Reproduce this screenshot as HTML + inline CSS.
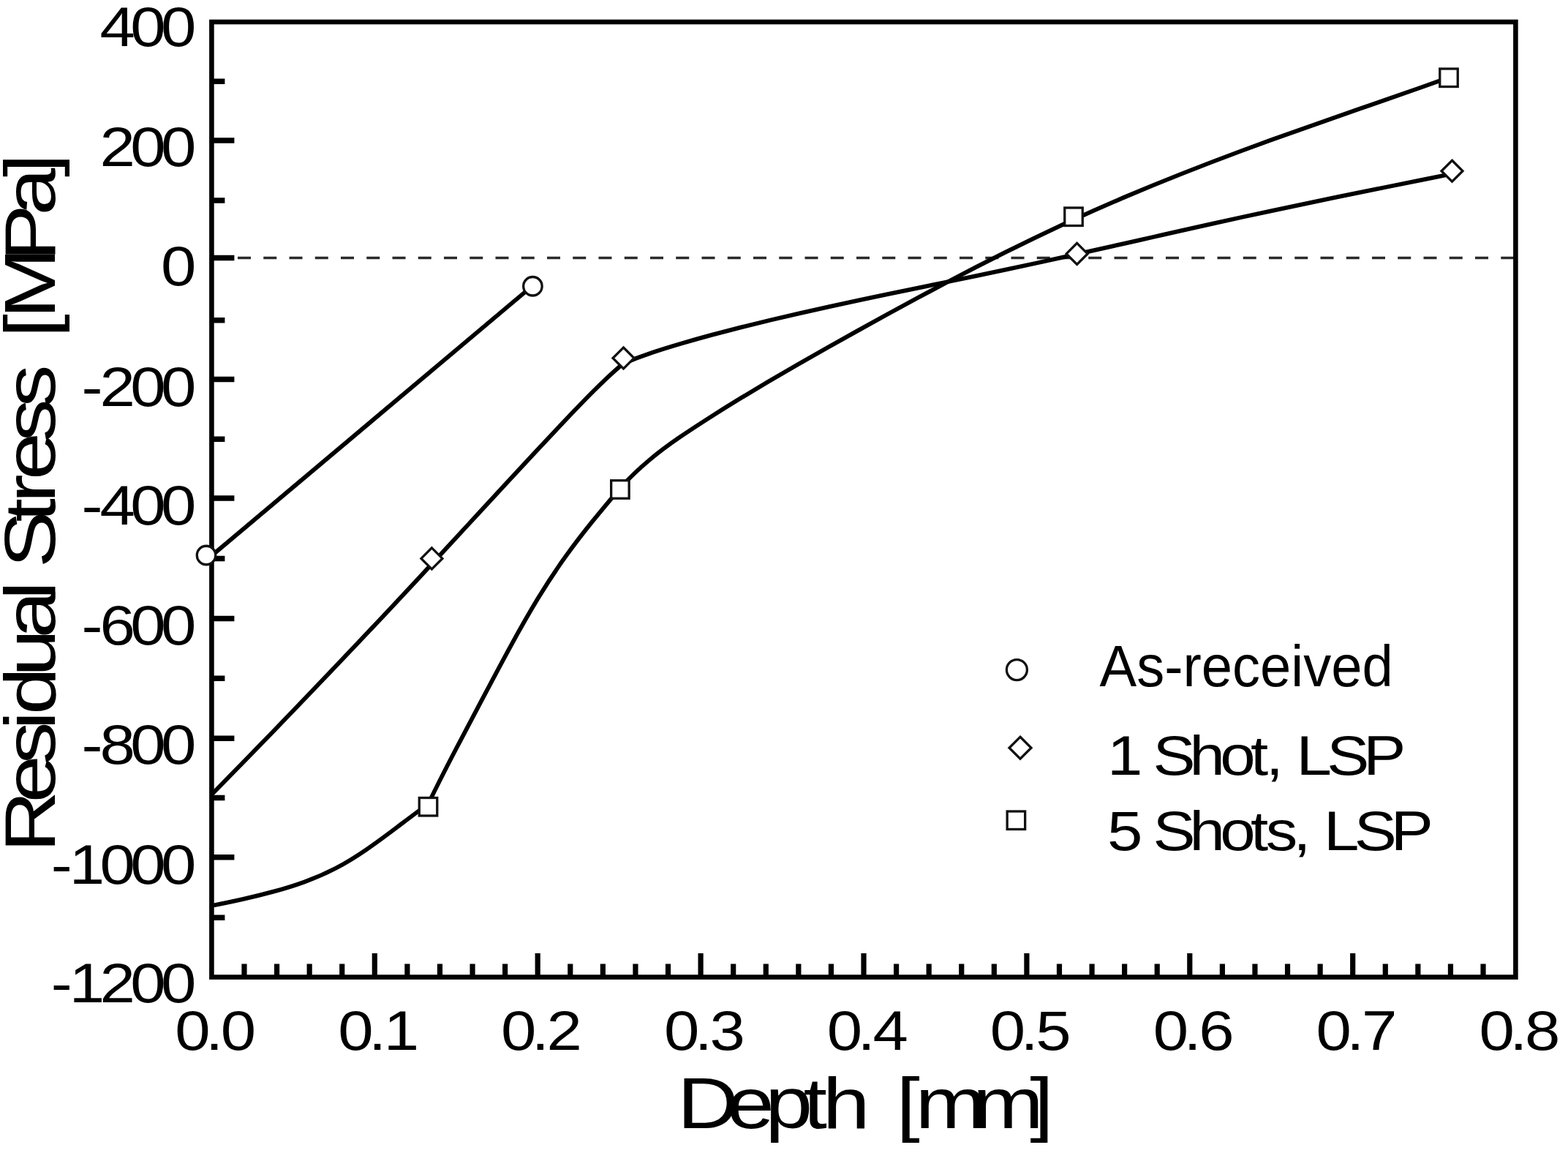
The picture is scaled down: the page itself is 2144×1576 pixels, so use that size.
<!DOCTYPE html>
<html lang="en"><head><meta charset="utf-8"><title>Residual Stress vs Depth</title>
<style>html,body{margin:0;padding:0;background:#fff;}body{width:2144px;height:1576px;overflow:hidden;}svg{display:block;filter:blur(0.6px);}text{font-family:"Liberation Sans",sans-serif;white-space:pre;}</style>
</head><body>
<svg width="2144" height="1576" viewBox="0 0 2144 1576">
<rect x="0" y="0" width="2144" height="1576" fill="#fff"/>
<path d="M289.75 352.50 H2072.40" stroke="#2a2a2a" stroke-width="3.6" stroke-dasharray="18 17.25" fill="none"/>
<g fill="none" stroke="#000" stroke-width="5.8" stroke-linecap="butt" stroke-linejoin="round">
<path d="M285.00 763.20 L728.40 390.40"/>
<path d="M289.40 1086.00 C302.80 1072.39 316.19 1058.73 329.59 1045.01 C342.98 1031.29 356.38 1017.52 369.77 1003.70 C383.17 989.87 396.56 975.99 409.96 962.06 C423.35 948.13 436.75 934.14 450.14 920.09 C463.54 906.05 476.93 891.95 490.33 877.79 C503.72 863.63 517.12 849.42 530.51 835.15 C543.91 820.87 557.30 806.55 570.70 792.16 C584.10 777.77 597.49 763.33 610.89 748.83 C624.28 734.33 637.68 719.78 651.07 705.24 C664.47 690.70 677.86 676.16 691.26 661.67 C704.65 647.19 718.05 632.75 731.44 618.41 C744.84 604.08 758.23 589.84 771.63 575.75 C785.02 561.66 798.42 547.64 811.81 534.29 C825.21 520.94 838.60 508.29 852.00 497.00"/>
<path d="M852.00 497.00 C865.44 491.26 878.88 486.28 892.32 481.75 C905.76 477.22 919.20 473.15 932.64 469.22 C946.08 465.29 959.52 461.52 972.96 457.88 C986.40 454.25 999.85 450.75 1013.29 447.36 C1026.73 443.97 1040.17 440.69 1053.61 437.49 C1067.05 434.30 1080.49 431.19 1093.93 428.14 C1107.37 425.09 1120.81 422.10 1134.25 419.16 C1147.69 416.21 1161.13 413.31 1174.57 410.45 C1188.01 407.59 1201.45 404.75 1214.89 401.94 C1228.33 399.13 1241.77 396.34 1255.21 393.56 C1268.65 390.78 1282.10 388.01 1295.54 385.23 C1308.98 382.45 1322.42 379.67 1335.86 376.87 C1349.30 374.07 1362.74 371.25 1376.18 368.40 C1389.62 365.55 1403.06 362.67 1416.50 359.76 C1429.94 356.84 1443.38 353.89 1456.82 350.91 C1470.26 347.94 1483.70 344.94 1497.14 341.92 C1510.58 338.91 1524.02 335.88 1537.46 332.84 C1550.90 329.81 1564.35 326.77 1577.79 323.73 C1591.23 320.70 1604.67 317.66 1618.11 314.65 C1631.55 311.63 1644.99 308.62 1658.43 305.64 C1671.87 302.66 1685.31 299.70 1698.75 296.77 C1712.19 293.84 1725.63 290.95 1739.07 288.08 C1752.51 285.21 1765.95 282.38 1779.39 279.56 C1792.83 276.75 1806.27 273.95 1819.71 271.18 C1833.15 268.41 1846.60 265.65 1860.04 262.91 C1873.48 260.17 1886.92 257.45 1900.36 254.73 C1913.80 252.01 1927.24 249.30 1940.68 246.60 C1954.12 243.90 1967.56 241.20 1981.00 238.50"/>
<path d="M289.40 1238.00 C303.50 1235.25 317.60 1232.35 331.70 1229.17 C345.80 1225.98 359.90 1222.53 374.00 1218.67 C388.10 1214.81 402.20 1210.53 416.30 1205.40 C430.40 1200.26 444.50 1194.26 458.60 1186.98 C472.70 1179.69 486.80 1170.94 500.90 1161.28 C515.00 1151.61 529.10 1141.08 543.20 1130.45 C557.30 1119.82 571.40 1109.09 585.50 1099.00"/>
<path d="M585.50 1099.00 C598.00 1073.12 610.50 1048.68 623.00 1024.77 C635.50 1000.85 648.00 977.36 660.50 953.69 C673.00 930.02 685.50 906.40 698.00 883.56 C710.50 860.72 723.00 838.64 735.50 818.05 C748.00 797.46 760.50 778.56 773.00 761.12 C785.50 743.69 798.00 727.58 810.50 712.13 C823.00 696.67 835.50 681.86 848.00 666.99"/>
<path d="M848.00 667.00 C861.49 652.24 874.98 639.61 888.46 628.36 C901.95 617.11 915.44 607.24 928.93 597.98 C942.42 588.72 955.90 579.99 969.39 571.37 C982.88 562.75 996.37 554.33 1009.86 546.08 C1023.35 537.83 1036.83 529.74 1050.32 521.78 C1063.81 513.82 1077.30 505.99 1090.79 498.25 C1104.27 490.51 1117.76 482.86 1131.25 475.27 C1144.74 467.68 1158.23 460.14 1171.71 452.64 C1185.20 445.14 1198.69 437.68 1212.18 430.29 C1225.67 422.89 1239.15 415.55 1252.64 408.29 C1266.13 401.02 1279.62 393.82 1293.11 386.71 C1306.60 379.60 1320.08 372.57 1333.57 365.64 C1347.06 358.71 1360.55 351.87 1374.04 345.14 C1387.52 338.42 1401.01 331.80 1414.50 325.31 C1427.99 318.81 1441.48 312.44 1454.96 306.20 C1468.45 299.96 1481.94 293.86 1495.43 287.87 C1508.92 281.89 1522.40 276.03 1535.89 270.28 C1549.38 264.53 1562.87 258.90 1576.36 253.37 C1589.85 247.83 1603.33 242.41 1616.82 237.07 C1630.31 231.74 1643.80 226.50 1657.29 221.34 C1670.77 216.19 1684.26 211.12 1697.75 206.12 C1711.24 201.12 1724.73 196.20 1738.21 191.34 C1751.70 186.48 1765.19 181.67 1778.68 176.90 C1792.17 172.13 1805.65 167.40 1819.14 162.70 C1832.63 157.99 1846.12 153.30 1859.61 148.61 C1873.10 143.93 1886.58 139.24 1900.07 134.54 C1913.56 129.84 1927.05 125.13 1940.54 120.37 C1954.02 115.62 1967.51 110.84 1981.00 106.00"/>
</g>
<g fill="none" stroke="#000">
<rect x="289.40" y="30.00" width="1783.00" height="1305.60" stroke-width="6.6"/>
<path d="M289.40 111.25h18.00M289.40 192.00h31.00M289.40 274.00h18.00M289.40 352.50h31.00M289.40 437.75h18.00M289.40 518.50h31.00M289.40 600.25h18.00M289.40 681.00h31.00M289.40 763.50h18.00M289.40 845.50h31.00M289.40 927.25h18.00M289.40 1009.25h31.00M289.40 1090.50h18.00M289.40 1171.75h31.00M289.40 1254.25h18.00" stroke-width="7.4"/>
<path d="M333.98 1335.60v-18.00M378.56 1335.60v-18.00M423.14 1335.60v-18.00M467.72 1335.60v-18.00M512.30 1335.60v-32.50M556.88 1335.60v-18.00M601.46 1335.60v-18.00M646.04 1335.60v-18.00M690.62 1335.60v-18.00M735.20 1335.60v-32.50M779.78 1335.60v-18.00M824.36 1335.60v-18.00M868.94 1335.60v-18.00M913.52 1335.60v-18.00M958.10 1335.60v-32.50M1002.68 1335.60v-18.00M1047.26 1335.60v-18.00M1091.84 1335.60v-18.00M1136.42 1335.60v-18.00M1181.00 1335.60v-32.50M1225.58 1335.60v-18.00M1270.16 1335.60v-18.00M1314.74 1335.60v-18.00M1359.32 1335.60v-18.00M1403.90 1335.60v-32.50M1448.48 1335.60v-18.00M1493.06 1335.60v-18.00M1537.64 1335.60v-18.00M1582.22 1335.60v-18.00M1626.80 1335.60v-32.50M1671.38 1335.60v-18.00M1715.96 1335.60v-18.00M1760.54 1335.60v-18.00M1805.12 1335.60v-18.00M1849.70 1335.60v-32.50M1894.28 1335.60v-18.00M1938.86 1335.60v-18.00M1983.44 1335.60v-18.00M2028.02 1335.60v-18.00" stroke-width="7.2"/>
</g>
<g fill="#fff" stroke="#111" stroke-width="3.3" stroke-linejoin="miter">
<circle cx="282.00" cy="759.00" r="12.75"/>
<circle cx="728.40" cy="391.25" r="12.75"/>
<circle cx="1390.40" cy="915.60" r="14.00"/>
<path d="M590.40 748.90L604.90 763.40L590.40 777.90L575.90 763.40Z"/>
<path d="M852.50 475.00L867.00 489.50L852.50 504.00L838.00 489.50Z"/>
<path d="M1472.60 332.40L1487.10 346.90L1472.60 361.40L1458.10 346.90Z"/>
<path d="M1985.50 219.25L2000.00 233.75L1985.50 248.25L1971.00 233.75Z"/>
<path d="M1395.00 1007.25L1410.00 1022.25L1395.00 1037.25L1380.00 1022.25Z"/>
<rect x="573.25" y="1090.50" width="24.50" height="24.50"/>
<rect x="835.65" y="656.75" width="24.50" height="24.50"/>
<rect x="1455.75" y="284.00" width="24.50" height="24.50"/>
<rect x="1968.75" y="94.00" width="24.50" height="24.50"/>
<rect x="1377.15" y="1109.00" width="24.50" height="24.50"/>
</g>
<g>
<text transform="translate(261.60 63.00) scale(1.1600 1.0250)" x="-107.87 -71.92 -35.96" y="0" font-size="75" fill="#000">400</text>
<text transform="translate(261.60 226.50) scale(1.1600 1.0250)" x="-107.87 -71.92 -35.96" y="0" font-size="75" fill="#000">200</text>
<text transform="translate(261.60 389.50) scale(1.1600 1.0250)" x="-35.96" y="0" font-size="75" fill="#000">0</text>
<text transform="translate(261.60 554.50) scale(1.1600 1.0250)" x="-129.41 -107.87 -71.92 -35.96" y="0" font-size="75" fill="#000">-200</text>
<text transform="translate(261.60 717.00) scale(1.1600 1.0250)" x="-129.41 -107.87 -71.92 -35.96" y="0" font-size="75" fill="#000">-400</text>
<text transform="translate(261.60 881.00) scale(1.1600 1.0250)" x="-129.41 -107.87 -71.92 -35.96" y="0" font-size="75" fill="#000">-600</text>
<text transform="translate(261.60 1043.50) scale(1.1600 1.0250)" x="-129.41 -107.87 -71.92 -35.96" y="0" font-size="75" fill="#000">-800</text>
<text transform="translate(261.60 1207.50) scale(1.1600 1.0250)" x="-165.36 -143.83 -107.87 -71.92 -35.96" y="0" font-size="75" fill="#000">-1000</text>
<text transform="translate(261.60 1370.00) scale(1.1600 1.0250)" x="-165.36 -143.83 -107.87 -71.92 -35.96" y="0" font-size="75" fill="#000">-1200</text>
<text transform="translate(291.40 1435.00) scale(1.1600 1.0250)" x="-44.94 -8.98 8.98" y="0" font-size="75" fill="#000">0.0</text>
<text transform="translate(514.30 1435.00) scale(1.1600 1.0250)" x="-44.94 -8.98 8.98" y="0" font-size="75" fill="#000">0.1</text>
<text transform="translate(737.20 1435.00) scale(1.1600 1.0250)" x="-44.94 -8.98 8.98" y="0" font-size="75" fill="#000">0.2</text>
<text transform="translate(960.10 1435.00) scale(1.1600 1.0250)" x="-44.94 -8.98 8.98" y="0" font-size="75" fill="#000">0.3</text>
<text transform="translate(1183.00 1435.00) scale(1.1600 1.0250)" x="-44.94 -8.98 8.98" y="0" font-size="75" fill="#000">0.4</text>
<text transform="translate(1405.90 1435.00) scale(1.1600 1.0250)" x="-44.94 -8.98 8.98" y="0" font-size="75" fill="#000">0.5</text>
<text transform="translate(1628.80 1435.00) scale(1.1600 1.0250)" x="-44.94 -8.98 8.98" y="0" font-size="75" fill="#000">0.6</text>
<text transform="translate(1851.70 1435.00) scale(1.1600 1.0250)" x="-44.94 -8.98 8.98" y="0" font-size="75" fill="#000">0.7</text>
<text transform="translate(2074.60 1435.00) scale(1.1600 1.0250)" x="-44.94 -8.98 8.98" y="0" font-size="75" fill="#000">0.8</text>
<text transform="translate(926.10 1542.30) scale(1.2400 1.0400)" x="0.00 54.74 96.90 139.06 160.13 202.29 241.41 262.47 325.62 388.77" y="0" font-size="94" fill="#000">Depth [mm]</text>
<text transform="translate(75.00 1165.00) rotate(-90) scale(1.2400 1.0400)" x="0.00 54.74 96.90 134.81 151.65 193.81 235.97 278.13 294.97 313.61 364.18 385.24 410.48 452.64 490.54 528.45 567.25 588.31 651.46 702.02 744.18" y="0" font-size="94" fill="#000">Residual Stress [MPa]</text>
<text transform="translate(1503.50 937.50) scale(1.0000 1.0500)" x="0.00 50.69 88.69 114.00 139.31 181.58 219.58 261.84 278.73 316.73 359.00" y="0" font-size="76" fill="#000">As-received</text>
<text transform="translate(1514.00 1058.50) scale(1.1600 1.0200)" x="0.00 35.96 53.92 97.05 133.00 168.96 186.93 204.89 222.85 258.81 301.93" y="0" font-size="75" fill="#000">1 Shot, LSP</text>
<text transform="translate(1514.00 1162.00) scale(1.1600 1.0200)" x="0.00 35.96 53.92 97.05 133.00 168.96 186.93 219.25 237.22 255.18 291.14 334.26" y="0" font-size="75" fill="#000">5 Shots, LSP</text>
</g>
</svg></body></html>
